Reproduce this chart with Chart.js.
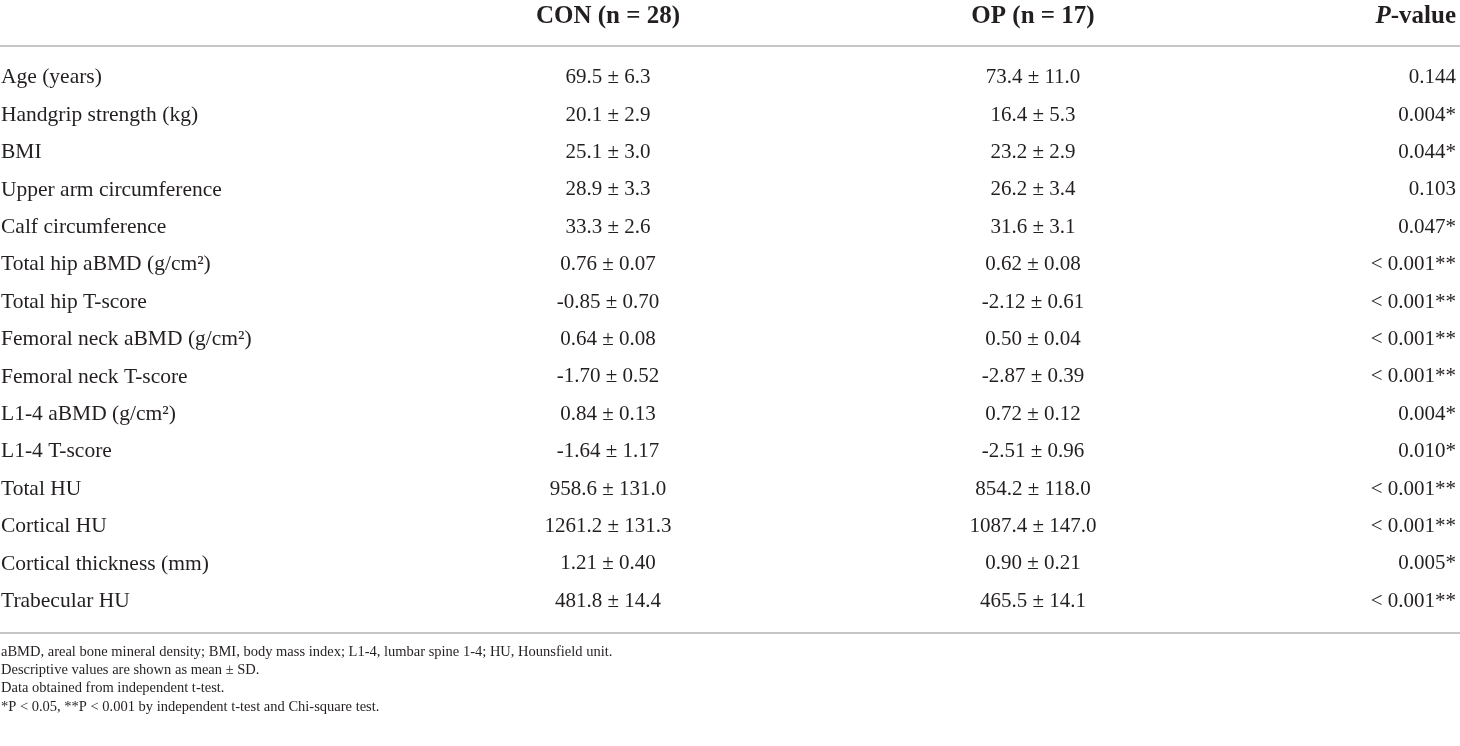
<!DOCTYPE html>
<html>
<head>
<meta charset="utf-8">
<script src="https://cdn.jsdelivr.net/npm/chart.js@4.4.1/dist/chart.umd.min.js"></script>
<style>
  html, body { margin: 0; padding: 0; background: #ffffff; }
  #wrap { width: 1460px; height: 746px; position: relative; }
</style>
</head>
<body>
<div id="wrap"><canvas id="c"></canvas></div>
<script>
// ---- data ----
const columnHeaders = ["CON (n = 28)", "OP (n = 17)", "P-value"];
const rowLabels = [
  "Age (years)",
  "Handgrip strength (kg)",
  "BMI",
  "Upper arm circumference",
  "Calf circumference",
  "Total hip aBMD (g/cm²)",
  "Total hip T-score",
  "Femoral neck aBMD (g/cm²)",
  "Femoral neck T-score",
  "L1-4 aBMD (g/cm²)",
  "L1-4 T-score",
  "Total HU",
  "Cortical HU",
  "Cortical thickness (mm)",
  "Trabecular HU"
];
const conValues = [
  "69.5 ± 6.3", "20.1 ± 2.9", "25.1 ± 3.0", "28.9 ± 3.3", "33.3 ± 2.6",
  "0.76 ± 0.07", "-0.85 ± 0.70", "0.64 ± 0.08", "-1.70 ± 0.52", "0.84 ± 0.13",
  "-1.64 ± 1.17", "958.6 ± 131.0", "1261.2 ± 131.3", "1.21 ± 0.40", "481.8 ± 14.4"
];
const opValues = [
  "73.4 ± 11.0", "16.4 ± 5.3", "23.2 ± 2.9", "26.2 ± 3.4", "31.6 ± 3.1",
  "0.62 ± 0.08", "-2.12 ± 0.61", "0.50 ± 0.04", "-2.87 ± 0.39", "0.72 ± 0.12",
  "-2.51 ± 0.96", "854.2 ± 118.0", "1087.4 ± 147.0", "0.90 ± 0.21", "465.5 ± 14.1"
];
const pValues = [
  "0.144", "0.004*", "0.044*", "0.103", "0.047*",
  "< 0.001**", "< 0.001**", "< 0.001**", "< 0.001**", "0.004*",
  "0.010*", "< 0.001**", "< 0.001**", "0.005*", "< 0.001**"
];
const footnotes = [
  "aBMD, areal bone mineral density; BMI, body mass index; L1-4, lumbar spine 1-4; HU, Hounsfield unit.",
  "Descriptive values are shown as mean ± SD.",
  "Data obtained from independent t-test.",
  "*P < 0.05, **P < 0.001 by independent t-test and Chi-square test."
];

// ---- layout (positions on the x scale, 0..1460) ----
const COL_X = { label: 1, con: 608, op: 1033, p: 1456 };
const TEXT = "#231f20";
const RULE = "#b4b4b4";
const SERIF = '"Liberation Serif", "DejaVu Serif", serif';

function cellData(col) {
  return rowLabels.map((lab) => ({ x: col, y: lab }));
}

const tablePlugin = {
  id: "tablePlugin",
  afterDatasetsDraw(chart) {
    const ctx = chart.ctx;
    const xs = chart.scales.x, ys = chart.scales.y;
    const area = chart.chartArea;
    ctx.save();
    ctx.fillStyle = TEXT;

    // header
    const hy = area.top - 42;
    ctx.textBaseline = "middle";
    ctx.font = "bold 25px " + SERIF;
    ctx.textAlign = "center";
    ctx.fillText(columnHeaders[0], xs.getPixelForValue(COL_X.con), hy);
    ctx.fillText(columnHeaders[1], xs.getPixelForValue(COL_X.op), hy);
    // P-value: italic P + bold rest, right aligned
    const pRight = xs.getPixelForValue(COL_X.p);
    const rest = columnHeaders[2].slice(1);
    ctx.textAlign = "right";
    ctx.fillText(rest, pRight, hy);
    const wRest = ctx.measureText(rest).width;
    ctx.font = "italic bold 25px " + SERIF;
    ctx.fillText(columnHeaders[2].slice(0, 1), pRight - wRest, hy);

    // rules
    ctx.strokeStyle = RULE;
    ctx.lineWidth = 1.5;
    ctx.beginPath();
    ctx.moveTo(area.left, area.top - 13);
    ctx.lineTo(area.right, area.top - 13);
    ctx.moveTo(area.left, area.bottom + 13);
    ctx.lineTo(area.right, area.bottom + 13);
    ctx.stroke();

    // row labels
    ctx.font = "21.5px " + SERIF;
    ctx.textAlign = "left";
    rowLabels.forEach((lab, i) => {
      ctx.fillText(lab, xs.getPixelForValue(COL_X.label), ys.getPixelForValue(i));
    });

    // cells from dataset elements
    ctx.font = "21px " + SERIF;
    const aligns = ["center", "center", "right"];
    const texts = [conValues, opValues, pValues];
    chart.data.datasets.forEach((ds, di) => {
      const meta = chart.getDatasetMeta(di);
      ctx.textAlign = aligns[di];
      meta.data.forEach((el, i) => {
        ctx.fillText(texts[di][i], el.x, el.y);
      });
    });

    // footnotes
    ctx.font = "14.5px " + SERIF;
    ctx.textAlign = "left";
    footnotes.forEach((t, i) => {
      ctx.fillText(t, xs.getPixelForValue(COL_X.label), area.bottom + 32 + i * 18.3);
    });
    ctx.restore();
  }
};

new Chart(document.getElementById("c"), {
  type: "scatter",
  data: {
    datasets: [
      { label: columnHeaders[0], data: cellData(COL_X.con), pointRadius: 0 },
      { label: columnHeaders[1], data: cellData(COL_X.op), pointRadius: 0 },
      { label: columnHeaders[2], data: cellData(COL_X.p), pointRadius: 0 }
    ]
  },
  options: {
    responsive: true,
    maintainAspectRatio: false,
    animation: false,
    events: [],
    layout: { padding: { top: 59, bottom: 126, left: 0, right: 0 } },
    plugins: { legend: { display: false }, tooltip: { enabled: false } },
    scales: {
      x: { type: "linear", min: 0, max: 1460, display: false },
      y: { type: "category", labels: rowLabels, offset: true, display: false }
    }
  },
  plugins: [tablePlugin]
});
</script>
</body>
</html>
